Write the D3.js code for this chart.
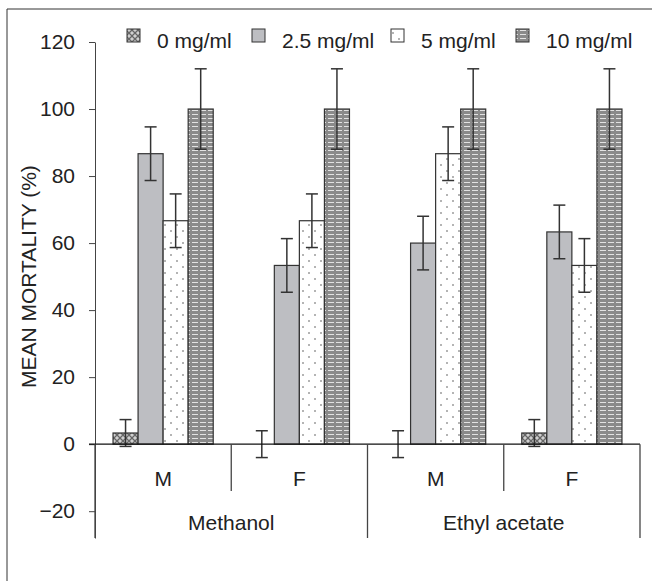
<html>
<head>
  <meta charset="utf-8">
  <script src="https://d3js.org/d3.v7.min.js"></script>
  <style>
    body { margin: 0; background: #fff; }
    text { font-family: "Liberation Sans", Arial, sans-serif; fill: #222; }
  </style>
</head>
<body>
  <svg id="chart"></svg>

  <script>
    const groups = ['M', 'F', 'M', 'F'];
    const solvents = ['Methanol', 'Ethyl acetate'];
    const doses = ['0 mg/ml', '2.5 mg/ml', '5 mg/ml', '10 mg/ml'];

    // mean mortality (%) per group, one array per dose
    const mean0 = [3.33, 0, 0, 3.33];
    const mean25 = [86.67, 53.33, 60, 63.33];
    const mean5 = [66.67, 66.67, 86.67, 53.33];
    const mean10 = [100, 100, 100, 100];

    // error bar half-lengths
    const err0 = [4, 4, 4, 4];
    const err25 = [8, 8, 8, 8];
    const err5 = [8, 8, 8, 8];
    const err10 = [12, 12, 12, 12];

    const yTicks = [-20, 0, 20, 40, 60, 80, 100, 120];

    const means = [mean0, mean25, mean5, mean10];
    const errs = [err0, err25, err5, err10];

    const width = 652;
    const height = 581;
    const fs = 21;

    const svg = d3.select('#chart')
      .attr('width', width)
      .attr('height', height);

    // patterns
    const defs = svg.append('defs');

    const pCross = defs.append('pattern').attr('id', 'p0')
      .attr('patternUnits', 'userSpaceOnUse').attr('width', 6).attr('height', 6);
    pCross.append('rect').attr('width', 6).attr('height', 6).attr('fill', '#d0d0d0');
    pCross.append('path').attr('d', 'M0,0L6,6M6,0L0,6').attr('stroke', '#666').attr('stroke-width', 1.3);

    const pDots = defs.append('pattern').attr('id', 'p5')
      .attr('patternUnits', 'userSpaceOnUse').attr('width', 12).attr('height', 12);
    pDots.append('rect').attr('width', 12).attr('height', 12).attr('fill', '#fff');
    pDots.append('circle').attr('cx', 3).attr('cy', 3).attr('r', 0.8).attr('fill', '#555');
    pDots.append('circle').attr('cx', 9).attr('cy', 9).attr('r', 0.8).attr('fill', '#555');

    const pStripe = defs.append('pattern').attr('id', 'p10')
      .attr('patternUnits', 'userSpaceOnUse').attr('width', 8).attr('height', 4);
    pStripe.append('rect').attr('width', 8).attr('height', 4).attr('fill', '#8a8a8a');
    pStripe.append('rect').attr('y', 2).attr('width', 6).attr('height', 1).attr('fill', '#e2e2e2');

    const fills = ['url(#p0)', '#bdbec2', 'url(#p5)', 'url(#p10)'];

    // frame (top and left edges)
    svg.append('path')
      .attr('d', 'M7,581V9H652')
      .attr('fill', 'none')
      .attr('stroke', '#333')
      .attr('stroke-width', 1);

    const y = d3.scaleLinear().domain([-28, 120]).range([538, 42]);
    const x0 = d3.scaleBand().domain(d3.range(groups.length)).range([95, 640]);
    const x1 = d3.scaleBand().domain(doses).range([0, x0.bandwidth()]).paddingOuter(0.72);

    // y axis
    const yAxis = svg.append('g')
      .attr('transform', 'translate(95,0)')
      .call(d3.axisLeft(y).tickValues(yTicks).tickSize(6).tickSizeOuter(0).tickPadding(14));
    yAxis.select('.domain').attr('stroke', '#444');
    yAxis.selectAll('.tick line').attr('stroke', '#444');
    yAxis.selectAll('text').attr('font-size', fs).attr('fill', '#222')
      .attr('font-family', '"Liberation Sans", Arial, sans-serif');

    svg.append('text')
      .attr('transform', `translate(29,${y(50)}) rotate(-90)`)
      .attr('text-anchor', 'middle')
      .attr('dy', '0.35em')
      .attr('font-size', fs)
      .text('MEAN MORTALITY (%)');

    // bars
    const bars = svg.append('g');
    doses.forEach((dose, j) => {
      bars.selectAll(null)
        .data(means[j])
        .enter().append('rect')
        .attr('x', (d, i) => x0(i) + x1(dose))
        .attr('y', d => y(Math.max(d, 0)))
        .attr('width', x1.bandwidth())
        .attr('height', d => Math.abs(y(d) - y(0)))
        .attr('fill', fills[j])
        .attr('stroke', '#333')
        .attr('stroke-width', 1.2);
    });

    // error bars
    const cap = 6;
    doses.forEach((dose, j) => {
      const eb = bars.selectAll(null)
        .data(means[j].map((m, i) => ({ m, e: errs[j][i], i })))
        .enter().append('g')
        .attr('stroke', '#333')
        .attr('stroke-width', 1.5);
      const cx = d => x0(d.i) + x1(dose) + x1.bandwidth() / 2;
      eb.append('line')
        .attr('x1', cx).attr('x2', cx)
        .attr('y1', d => y(d.m + d.e)).attr('y2', d => y(d.m - d.e));
      eb.append('line')
        .attr('x1', d => cx(d) - cap).attr('x2', d => cx(d) + cap)
        .attr('y1', d => y(d.m + d.e)).attr('y2', d => y(d.m + d.e));
      eb.append('line')
        .attr('x1', d => cx(d) - cap).attr('x2', d => cx(d) + cap)
        .attr('y1', d => y(d.m - d.e)).attr('y2', d => y(d.m - d.e));
    });

    // zero line / category axis
    svg.append('line')
      .attr('x1', 89).attr('x2', 640)
      .attr('y1', y(0)).attr('y2', y(0))
      .attr('stroke', '#111').attr('stroke-width', 1.3);

    const div = svg.append('g').attr('stroke', '#444').attr('stroke-width', 1.3);
    d3.range(groups.length + 1).forEach(i => {
      const xx = i < groups.length ? x0(i) : x0.range()[1];
      const outer = i % 2 === 0;
      div.append('line')
        .attr('x1', xx).attr('x2', xx)
        .attr('y1', y(0)).attr('y2', outer ? 538 : 491);
    });

    svg.selectAll('.grp')
      .data(groups)
      .enter().append('text')
      .attr('x', (d, i) => x0(i) + x0.bandwidth() / 2)
      .attr('y', 479)
      .attr('dy', '0.35em')
      .attr('text-anchor', 'middle')
      .attr('font-size', fs)
      .text(d => d);

    svg.selectAll('.solv')
      .data(solvents)
      .enter().append('text')
      .attr('x', (d, i) => x0(i * 2) + x0.bandwidth())
      .attr('y', 523)
      .attr('dy', '0.35em')
      .attr('text-anchor', 'middle')
      .attr('font-size', fs)
      .text(d => d);

    // legend
    const legX = [127, 252, 391, 516];
    const legend = svg.append('g');
    doses.forEach((dose, j) => {
      legend.append('rect')
        .attr('x', legX[j]).attr('y', 29)
        .attr('width', 13).attr('height', 13)
        .attr('fill', fills[j])
        .attr('stroke', '#333');
      legend.append('text')
        .attr('x', legX[j] + 30).attr('y', 48)
        .attr('font-size', fs)
        .text(dose);
    });
  </script>
</body>
</html>
